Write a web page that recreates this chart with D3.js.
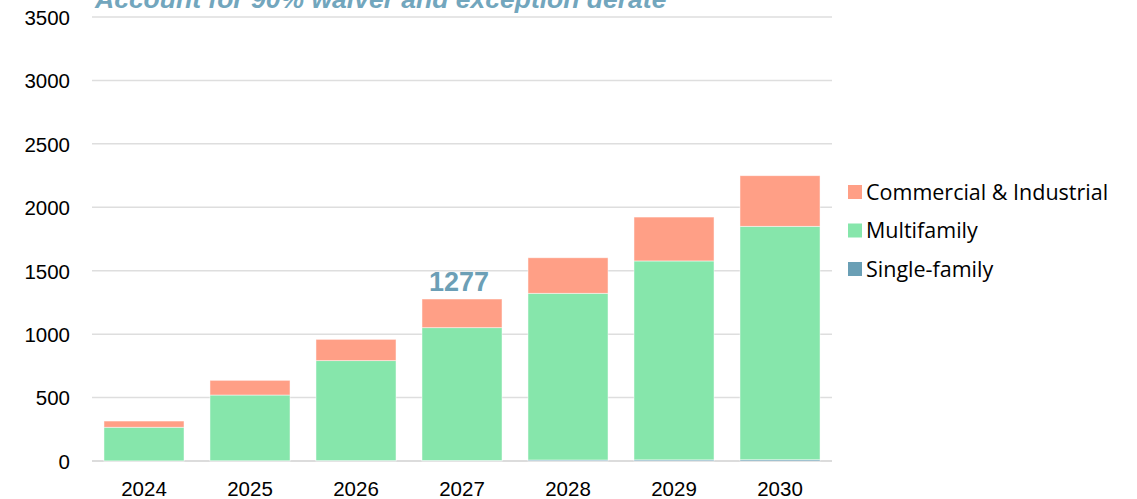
<!DOCTYPE html>
<html>
<head>
<meta charset="utf-8">
<script src="https://cdn.jsdelivr.net/npm/d3@7"></script>
<style>
  html, body { margin: 0; padding: 0; background: #ffffff; }
  svg { display: block; }
</style>
</head>
<body>
<svg id="chart" width="1137" height="499"></svg>
<script>
// Yearly stacked values by sector
const years = ["2024", "2025", "2026", "2027", "2028", "2029", "2030"];
const singleFamily = [1, 2, 3, 4, 8, 9, 10];
const multifamily = [265, 518, 788, 1047, 1314, 1568, 1840];
const commercialIndustrial = [49, 116, 168, 226, 280, 346, 399];
const yTicks = [0, 500, 1000, 1500, 2000, 2500, 3000, 3500];
const seriesNames = ["Single-family", "Multifamily", "Commercial & Industrial"];
const seriesColors = ["#6a9fb5", "#86e6ab", "#ff9f86"];
const titleText = "Account for 90% waiver and exception derate";
const calloutYear = "2027";
const calloutValue = 1277;

const rows = years.map((y, i) => ({
  year: y,
  "Single-family": singleFamily[i],
  "Multifamily": multifamily[i],
  "Commercial & Industrial": commercialIndustrial[i]
}));

const svg = d3.select("#chart");
const plot = { left: 92, right: 832, top: 17, bottom: 461 };

const x = d3.scaleBand()
  .domain(years)
  .range([plot.left, plot.right])
  .paddingInner(0.245)
  .paddingOuter(0.113);

const y = d3.scaleLinear()
  .domain([0, 3500])
  .range([plot.bottom, plot.top]);

const color = d3.scaleOrdinal().domain(seriesNames).range(seriesColors);

// Horizontal gridlines
svg.append("g")
  .selectAll("line")
  .data(yTicks)
  .join("line")
  .attr("x1", plot.left)
  .attr("x2", plot.right)
  .attr("y1", d => y(d))
  .attr("y2", d => y(d))
  .attr("stroke", d => d === 0 ? "#d0d0d0" : "#dedede")
  .attr("stroke-width", 1.5);

// Y axis labels
const yAxis = d3.axisLeft(y).tickValues(yTicks).tickFormat(d3.format("d")).tickSize(0).tickPadding(0);
const yAxisG = svg.append("g")
  .attr("transform", `translate(70,0)`)
  .call(yAxis);
yAxisG.select(".domain").remove();
yAxisG.selectAll("text")
  .attr("font-family", "'Liberation Sans', Arial, sans-serif")
  .attr("font-size", 20.5)
  .attr("fill", "#000")
  .attr("dy", "0.36em");

// X axis labels
const xAxis = d3.axisBottom(x).tickSize(0).tickPadding(0);
const xAxisG = svg.append("g")
  .attr("transform", `translate(0,${plot.bottom + 35})`)
  .call(xAxis);
xAxisG.select(".domain").remove();
xAxisG.selectAll("text")
  .attr("font-family", "'Liberation Sans', Arial, sans-serif")
  .attr("font-size", 20.5)
  .attr("fill", "#000")
  .attr("dy", 0);

// Stacked bars
const stacked = d3.stack().keys(seriesNames)(rows);
svg.append("g")
  .selectAll("g")
  .data(stacked)
  .join("g")
  .attr("fill", d => color(d.key))
  .selectAll("rect")
  .data(d => d)
  .join("rect")
  .attr("x", d => x(d.data.year))
  .attr("width", x.bandwidth())
  .attr("y", d => y(d[1]))
  .attr("height", d => y(d[0]) - y(d[1]))
  .attr("stroke", "rgba(255,255,255,0.6)")
  .attr("stroke-width", 0.8);

// Total callout above the 2027 bar
svg.append("text")
  .attr("x", x(calloutYear) + x.bandwidth() / 2 - 3)
  .attr("y", y(calloutValue) - 8)
  .attr("text-anchor", "middle")
  .attr("font-family", "'Liberation Sans', Arial, sans-serif")
  .attr("font-weight", "bold")
  .attr("font-size", 27)
  .attr("fill", "#6c9fb6")
  .text(calloutValue);

// Title (partly above the top edge)
svg.append("text")
  .attr("x", 95)
  .attr("y", 8)
  .attr("font-family", "'Liberation Sans', Arial, sans-serif")
  .attr("font-weight", "bold")
  .attr("font-style", "italic")
  .attr("font-size", 26.5)
  .attr("fill", "#72a6bd")
  .text(titleText);

// Legend
const legendItems = seriesNames.slice().reverse();
const legend = svg.append("g")
  .selectAll("g")
  .data(legendItems)
  .join("g")
  .attr("transform", (d, i) => `translate(848,${192 + i * 38.5})`);
legend.append("rect")
  .attr("x", 0)
  .attr("y", -7)
  .attr("width", 14)
  .attr("height", 14)
  .attr("fill", d => color(d));
legend.append("text")
  .attr("x", 18)
  .attr("y", 0)
  .attr("dy", "0.36em")
  .attr("font-family", "'Open Sans', 'Noto Sans', sans-serif")
  .attr("font-size", 21.5)
  .attr("fill", "#000")
  .text(d => d);
</script>
</body>
</html>
